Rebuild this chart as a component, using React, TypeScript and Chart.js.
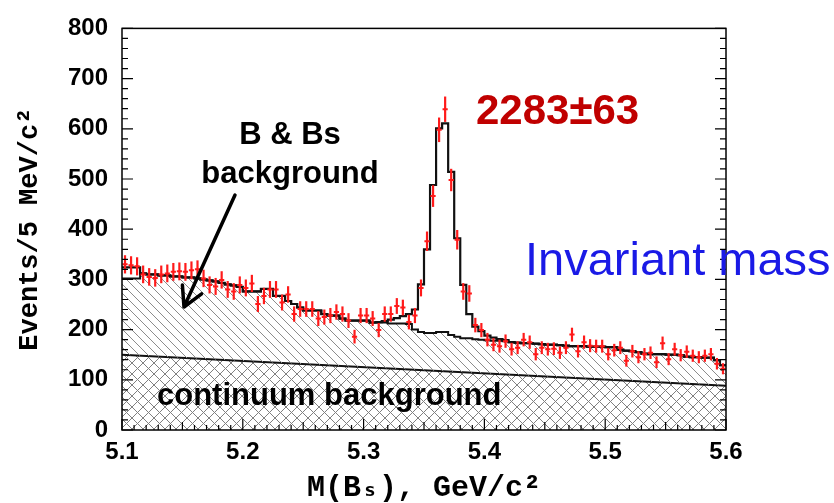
import React, { useEffect, useRef } from 'react';
import { Chart, registerables } from 'chart.js';

Chart.register(...registerables);

// ---- axes ----
const X_MIN = 5.1;
const X_MAX = 5.6;
const BIN_WIDTH = 0.005;
const X_TICKS = [5.1, 5.2, 5.3, 5.4, 5.5, 5.6];
const Y_TICKS = [0, 100, 200, 300, 400, 500, 600, 700, 800];

// ---- measured events per 5 MeV bin (100 bins, 5.1 .. 5.6) ----
const DATA_COUNTS = [
  330, 328, 326, 310, 305, 303, 310, 312, 315, 316,
  315, 318, 320, 302, 289, 286, 299, 280, 276, 289,
  283, 292, 251, 267, 280, 280, 254, 270, 231, 241,
  241, 241, 222, 225, 228, 235, 231, 218, 186, 228,
  228, 222, 199, 231, 231, 247, 244, 215, 228, 283,
  376, 466, 598, 639, 498, 379, 276, 272, 209, 199,
  180, 170, 167, 177, 161, 164, 180, 175, 151, 164,
  161, 162, 154, 164, 190, 157, 175, 168, 167, 167,
  151, 159, 164, 138, 157, 145, 151, 154, 135, 173,
  141, 161, 149, 156, 148, 145, 148, 151, 132, 122,
];

// ---- total fit (signal + all backgrounds) ----
const FIT_TOTAL = [
  324, 324, 324, 312, 310, 310, 308, 308, 306, 306,
  304, 304, 302, 300, 298, 296, 293, 290, 288, 285,
  276, 276, 276, 281, 281, 267, 267, 257, 251, 244,
  238, 238, 238, 231, 228, 228, 222, 218, 218, 218,
  218, 214, 215, 217, 220, 223, 227, 231, 240, 290,
  360, 488, 601, 611, 514, 382, 289, 231, 206, 197,
  188, 184, 181, 179, 175, 174, 173, 173, 172, 171,
  170, 170, 169, 168, 167, 167, 167, 166, 166, 166,
  165, 165, 160, 158, 157, 155, 152, 151, 151, 151,
  150, 150, 149, 146, 145, 145, 144, 144, 139, 129,
];

// ---- B & Bs background + continuum ----
const FIT_BACKGROUND = [
  302, 302, 302, 312, 310, 310, 308, 308, 306, 306,
  304, 304, 302, 300, 298, 296, 293, 290, 288, 285,
  276, 276, 276, 281, 281, 267, 267, 257, 251, 244,
  238, 238, 238, 231, 228, 228, 222, 218, 218, 218,
  218, 214, 214, 214, 212, 212, 212, 211, 200, 195,
  193, 193, 195, 195, 189, 186, 183, 183, 181, 180,
  179, 178, 178, 177, 175, 174, 173, 173, 172, 171,
  170, 170, 169, 168, 167, 167, 167, 166, 166, 166,
  165, 165, 160, 158, 157, 155, 152, 151, 151, 151,
  150, 150, 149, 146, 145, 145, 144, 144, 139, 129,
];

// ---- continuum background (straight line) ----
const CONTINUUM_X = [5.1, 5.6];
const CONTINUUM_Y = [150, 88];

const RED = '#ff1a1a';
const SANS = "'Liberation Sans', Arial, Helvetica, sans-serif";
const MONO = "'Liberation Mono', 'Courier New', monospace";

const binEdges = DATA_COUNTS.map((_, i) => X_MIN + i * BIN_WIDTH);
const binCenters = binEdges.map((e) => e + BIN_WIDTH / 2);
const stepPoints = (vals: number[]) => [
  ...vals.map((v, i) => ({ x: binEdges[i], y: v })),
  { x: X_MAX, y: vals[vals.length - 1] },
];

function makePattern(ctx: CanvasRenderingContext2D, cross: boolean, size: number, color: string) {
  const c = document.createElement('canvas');
  c.width = size;
  c.height = size;
  const g = c.getContext('2d')!;
  g.strokeStyle = color;
  g.lineWidth = 1;
  g.beginPath();
  g.moveTo(-1, -1); g.lineTo(size + 1, size + 1);
  g.moveTo(-1, size - 1); g.lineTo(1, size + 1);
  g.moveTo(size - 1, -1); g.lineTo(size + 1, 1);
  if (cross) {
    g.moveTo(-1, size + 1); g.lineTo(size + 1, -1);
    g.moveTo(-1, 1); g.lineTo(1, -1);
    g.moveTo(size - 1, size + 1); g.lineTo(size + 1, size - 1);
  }
  g.stroke();
  return ctx.createPattern(c, 'repeat')!;
}

const overlayPlugin = {
  id: 'overlay',
  afterDatasetsDraw(chart: any) {
    const { ctx, chartArea: a, scales } = chart;
    const sx = scales.x;
    const sy = scales.y;
    ctx.save();

    // vertical error bars
    ctx.strokeStyle = RED;
    ctx.lineWidth = 2.2;
    DATA_COUNTS.forEach((n, i) => {
      const px = sx.getPixelForValue(binCenters[i]);
      const e = Math.sqrt(n);
      ctx.beginPath();
      ctx.moveTo(px, sy.getPixelForValue(n + e));
      ctx.lineTo(px, sy.getPixelForValue(n - e));
      ctx.stroke();
    });

    // frame
    ctx.strokeStyle = '#000';
    ctx.lineWidth = 1.5;
    ctx.strokeRect(a.left, a.top, a.right - a.left, a.bottom - a.top);

    // inward ticks
    ctx.lineWidth = 1.2;
    ctx.beginPath();
    for (let k = 0; k <= 40; k++) {
      const py = sy.getPixelForValue(k * 20);
      const len = k % 5 === 0 ? 11 : 6;
      ctx.moveTo(a.left, py); ctx.lineTo(a.left + len, py);
      ctx.moveTo(a.right, py); ctx.lineTo(a.right - len, py);
    }
    for (let k = 0; k <= 50; k++) {
      const px = sx.getPixelForValue(X_MIN + k * 0.01);
      const len = k % 10 === 0 ? 11 : k % 5 === 0 ? 8 : 5;
      ctx.moveTo(px, a.bottom); ctx.lineTo(px, a.bottom - len);
    }
    ctx.stroke();

    // annotations
    ctx.fillStyle = '#000';
    ctx.textBaseline = 'alphabetic';
    ctx.font = `bold 31px ${SANS}`;
    ctx.textAlign = 'center';
    ctx.fillText('B & Bs', 290, 144);
    ctx.fillText('background', 290, 183);
    ctx.textAlign = 'left';
    ctx.fillText('continuum background', 157, 405);

    // arrow
    const x0 = 235, y0 = 195, x1 = 184, y1 = 307;
    ctx.lineWidth = 3.5;
    ctx.lineCap = 'round';
    ctx.lineJoin = 'round';
    ctx.beginPath();
    ctx.moveTo(x0, y0);
    ctx.lineTo(x1, y1);
    const ang = Math.atan2(y0 - y1, x0 - x1);
    const hl = 22;
    ctx.moveTo(x1 + hl * Math.cos(ang + 0.5), y1 + hl * Math.sin(ang + 0.5));
    ctx.lineTo(x1, y1);
    ctx.lineTo(x1 + hl * Math.cos(ang - 0.5), y1 + hl * Math.sin(ang - 0.5));
    ctx.stroke();

    ctx.fillStyle = '#c00000';
    ctx.font = `bold 42px ${SANS}`;
    ctx.fillText('2283±63', 476, 124);

    ctx.fillStyle = '#1a1ae6';
    ctx.font = `47px ${SANS}`;
    ctx.fillText('Invariant mass', 525, 275);

    ctx.restore();
  },
};

export default function App() {
  const canvasRef = useRef<HTMLCanvasElement | null>(null);

  useEffect(() => {
    const canvas = canvasRef.current!;
    const ctx = canvas.getContext('2d')!;
    const diagPattern = makePattern(ctx, false, 9, '#8c8c8c');
    const crossPattern = makePattern(ctx, true, 11, '#808080');

    const chart = new Chart(canvas, {
      type: 'line',
      data: {
        datasets: [
          {
            label: 'Data',
            data: DATA_COUNTS.map((v, i) => ({ x: binCenters[i], y: v })),
            showLine: false,
            pointStyle: 'line',
            pointRadius: 2.6,
            pointBorderWidth: 2,
            pointBorderColor: RED,
            pointBackgroundColor: RED,
            order: 0,
          },
          {
            label: 'Fit',
            data: stepPoints(FIT_TOTAL),
            stepped: true,
            borderColor: '#111',
            borderWidth: 2.2,
            pointRadius: 0,
            fill: false,
            order: 1,
          },
          {
            label: 'B & Bs background',
            data: stepPoints(FIT_BACKGROUND),
            stepped: true,
            borderColor: '#111',
            borderWidth: 2,
            pointRadius: 0,
            backgroundColor: diagPattern,
            fill: '+1',
            order: 2,
          },
          {
            label: 'continuum background',
            data: CONTINUUM_X.map((x, i) => ({ x, y: CONTINUUM_Y[i] })),
            borderColor: '#111',
            borderWidth: 2,
            pointRadius: 0,
            backgroundColor: crossPattern,
            fill: 'origin',
            order: 3,
          },
        ],
      },
      options: {
        responsive: false,
        animation: false,
        layout: { padding: { left: 0, right: 108, top: 15, bottom: 0 } },
        plugins: {
          legend: { display: false },
          tooltip: { enabled: false },
        },
        scales: {
          x: {
            type: 'linear',
            min: X_MIN,
            max: X_MAX,
            afterFit: (s: any) => { s.height = 73; },
            afterBuildTicks: (s: any) => { s.ticks = X_TICKS.map((v) => ({ value: v })); },
            grid: { display: false, drawTicks: false },
            border: { display: false },
            ticks: {
              color: '#000',
              padding: 8,
              maxRotation: 0,
              autoSkip: false,
              font: { family: SANS, weight: 'bold', size: 24 },
              callback: (v: any) => Number(v).toFixed(1),
            },
            title: {
              display: true,
              text: 'M(Bₛ), GeV/c²',
              color: '#000',
              font: { family: MONO, weight: 'bold', size: 30, lineHeight: 1 },
              padding: { top: 0, bottom: 0 },
            },
          },
          y: {
            min: 0,
            max: 800,
            afterFit: (s: any) => { s.width = 122; },
            afterBuildTicks: (s: any) => { s.ticks = Y_TICKS.map((v) => ({ value: v })); },
            grid: { display: false, drawTicks: false },
            border: { display: false },
            ticks: {
              color: '#000',
              padding: 14,
              autoSkip: false,
              font: { family: SANS, weight: 'bold', size: 24 },
            },
            title: {
              display: true,
              text: 'Events/5 MeV/c²',
              color: '#000',
              font: { family: MONO, weight: 'bold', size: 27, lineHeight: 1 },
              padding: { top: 17, bottom: 0 },
            },
          },
        },
      },
      plugins: [overlayPlugin],
    } as any);

    return () => chart.destroy();
  }, []);

  return (
    <div style={{ position: 'absolute', left: 0, top: 0, width: 834, height: 503, background: '#fff' }}>
      <canvas ref={canvasRef} width={834} height={503} style={{ display: 'block' }} />
    </div>
  );
}
